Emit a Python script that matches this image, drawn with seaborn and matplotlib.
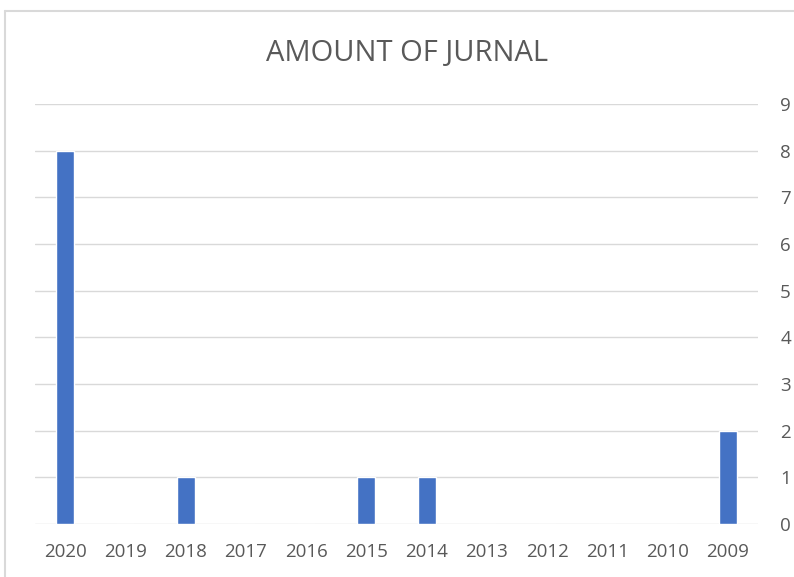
import matplotlib
matplotlib.use("Agg")
import matplotlib.pyplot as plt
import seaborn as sns
import pandas as pd
from matplotlib.lines import Line2D

years = ["2020", "2019", "2018", "2017", "2016", "2015", "2014", "2013", "2012", "2011", "2010", "2009"]
amounts = [8, 0, 1, 0, 0, 1, 1, 0, 0, 0, 0, 2]
title = "AMOUNT OF JURNAL"

sns.set_theme(style="white")
plt.rcParams['font.family'] = ['Open Sans', 'DejaVu Sans']

df = pd.DataFrame({"year": years, "amount": amounts})

fig = plt.figure(figsize=(7.94, 5.77), dpi=100)
fig.patch.set_facecolor("white")
ax = fig.add_axes([35/794, 1-524/577, 723/794, 420/577])

sns.barplot(data=df, x="year", y="amount", order=years, color="#4472C4",
            width=0.3, saturation=1, ax=ax)

ax.set_ylim(0, 9)
ax.set_yticks(range(0, 10))
ax.yaxis.tick_right()
ax.grid(axis="y", color="#D9D9D9", linewidth=1)
ax.set_axisbelow(True)
for s in ax.spines.values():
    s.set_visible(False)
ax.tick_params(axis="y", length=0, pad=16, labelsize=13.5, labelcolor="#595959")
ax.tick_params(axis="x", length=0, pad=14, labelsize=13.5, labelcolor="#595959")
ax.set_xlabel("")
ax.set_ylabel("")

fig.text(407/794, 1-54/577, title, ha="center", va="center", fontsize=21, color="#595959")

# chart frame
fig.add_artist(Line2D([5/794, 1.0], [1-11/577, 1-11/577], color="#D9D9D9", linewidth=1.5, transform=fig.transFigure))
fig.add_artist(Line2D([5/794, 5/794], [0, 1-11/577], color="#D9D9D9", linewidth=1.5, transform=fig.transFigure))

fig.savefig("out.png", dpi=100)
